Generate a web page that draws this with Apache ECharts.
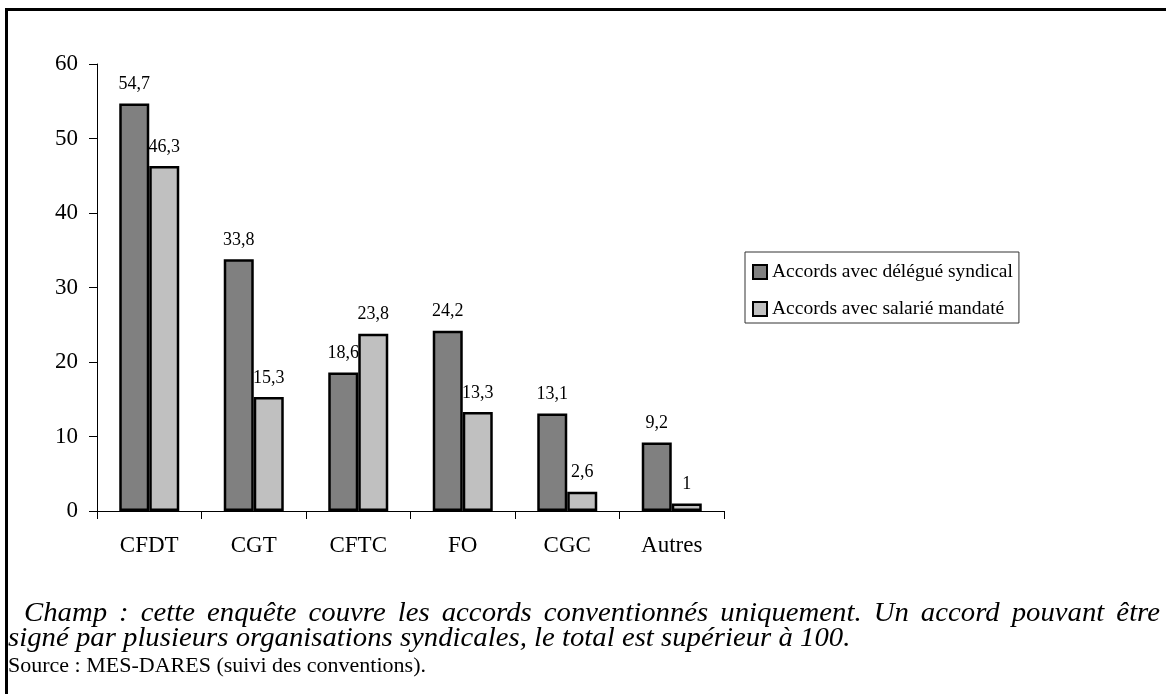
<!DOCTYPE html>
<html>
<head>
<meta charset="utf-8">
<script src="https://cdn.jsdelivr.net/npm/echarts@6/dist/echarts.min.js"></script>
<style>
html,body{margin:0;padding:0;background:#fff;}
#chart{width:1166px;height:694px;}
</style>
</head>
<body>
<div id="chart"></div>
<script>
const categories = ['CFDT', 'CGT', 'CFTC', 'FO', 'CGC', 'Autres'];
const seriesNames = ['Accords avec délégué syndical', 'Accords avec salarié mandaté'];
const delegue = [54.7, 33.8, 18.6, 24.2, 13.1, 9.2];
const mandate = [46.3, 15.3, 23.8, 13.3, 2.6, 1];
const footerLines = [
  'Champ : cette enquête couvre les accords conventionnés uniquement. Un accord pouvant être',
  'signé par plusieurs organisations syndicales, le total est supérieur à 100.',
  'Source : MES-DARES (suivi des conventions).'
];

const FONT = '"Liberation Serif", "DejaVu Serif", serif';
const fmt = p => String(p.value).replace('.', ',');

// footer text (line 1 justified across the width, like the reference)
const ITALIC = 'italic 26.5px ' + FONT;
const SX = 1.085;
const ctx = document.createElement('canvas').getContext('2d');
ctx.font = ITALIC;
const footerGraphics = [];
(function () {
  const words = footerLines[0].split(' ');
  const x0 = 24, x1 = 1160;
  const widths = words.map(w => ctx.measureText(w).width * SX);
  const total = widths.reduce((a, b) => a + b, 0);
  const gap = (x1 - x0 - total) / (words.length - 1);
  let x = x0;
  words.forEach((w, i) => {
    footerGraphics.push({type: 'text', x: x, y: 601, scaleX: SX,
      style: {text: w, font: ITALIC, fill: '#000'}});
    x += widths[i] + gap;
  });
})();
footerGraphics.push({type: 'text', x: 8, y: 626, scaleX: SX,
  style: {text: footerLines[1], font: ITALIC, fill: '#000'}});
footerGraphics.push({type: 'text', x: 8, y: 655,
  style: {text: footerLines[2], font: '22px ' + FONT, fill: '#000'}});

const chart = echarts.init(document.getElementById('chart'), null, {renderer: 'canvas'});
chart.setOption({
  animation: false,
  backgroundColor: '#fff',
  textStyle: {fontFamily: FONT, color: '#000'},
  grid: {left: 97, top: 64, right: 442, bottom: 183, containLabel: false},
  legend: {
    orient: 'vertical',
    left: 745, top: 252,
    padding: [10, 6, 4, 7],
    itemGap: 17,
    itemWidth: 14, itemHeight: 14,
    icon: 'rect',
    borderColor: '#333', borderWidth: 1,
    textStyle: {fontFamily: FONT, fontSize: 19.5, color: '#000'},
    data: seriesNames
  },
  xAxis: {
    type: 'category',
    data: categories,
    axisLine: {lineStyle: {color: '#000', width: 1}},
    axisTick: {show: true, alignWithLabel: false, length: 8, lineStyle: {color: '#000'}},
    axisLabel: {fontFamily: FONT, fontSize: 23, color: '#000', margin: 23}
  },
  yAxis: {
    type: 'value',
    min: 0, max: 60, interval: 10,
    axisLine: {show: true, lineStyle: {color: '#000', width: 1}},
    axisTick: {show: true, length: 8, lineStyle: {color: '#000'}},
    splitLine: {show: false},
    axisLabel: {fontFamily: FONT, fontSize: 23, color: '#000', margin: 19}
  },
  series: [
    {
      name: seriesNames[0], type: 'bar', data: delegue,
      barWidth: 30, barGap: '0%',
      itemStyle: {color: '#808080', borderColor: '#000', borderWidth: 2.5},
      label: {show: true, position: 'top', distance: 10, formatter: fmt,
               fontFamily: FONT, fontSize: 18, color: '#000'}
    },
    {
      name: seriesNames[1], type: 'bar', data: mandate,
      barWidth: 30, barGap: '0%',
      itemStyle: {color: '#c0c0c0', borderColor: '#000', borderWidth: 2.5},
      label: {show: true, position: 'top', distance: 10, formatter: fmt,
               fontFamily: FONT, fontSize: 18, color: '#000'}
    }
  ],
  graphic: [
    {type: 'rect', left: 4, top: 7, shape: {x: 0, y: 0, width: 1300, height: 800}, z: -1,
     style: {fill: 'none', stroke: '#000', lineWidth: 3}}
  ].concat(footerGraphics)
});
</script>
</body>
</html>
